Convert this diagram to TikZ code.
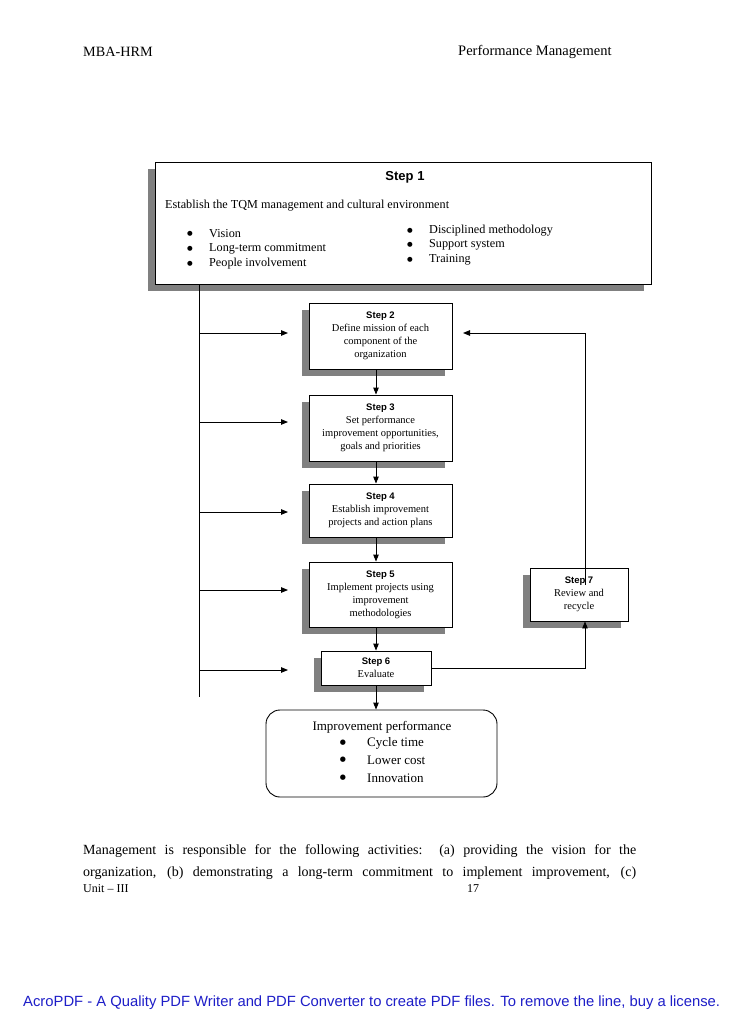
\documentclass[tikz,border=0pt]{standalone}
\usepackage{fontspec}
\setmainfont{Liberation Serif}
\newfontfamily\stepfont{Liberation Sans}
\newfontfamily\dejavu{DejaVu Sans}
\usetikzlibrary{arrows.meta,shadows,calc}
\definecolor{shadowgray}{RGB}{128,128,128}
\definecolor{acroblue}{RGB}{30,30,200}
\begin{document}
\begin{tikzpicture}[x=1pt,y=-1pt,
  ln/.style={line width=0.9pt},
  arr/.style={line width=0.9pt,-{Triangle[length=7pt,width=5.5pt]}},
  stepbox/.style={draw, line width=0.9pt, fill=white,
    general shadow={fill=shadowgray, shadow xshift=-7pt, shadow yshift=-7pt},
    align=center, inner sep=0pt, font=\fontsize{10.5}{13}\selectfont},
  txt/.style={inner sep=0pt, anchor=west},
  bul/.style={inner sep=0pt, font=\dejavu\fontsize{6.5}{6.5}\selectfont},
]
\newcommand\stl[1]{{\stepfont\bfseries\fontsize{9.5}{13}\selectfont #1}}
\useasboundingbox (0,0) rectangle (728,1030);
\fill[white] (0,0) rectangle (728,1030);

% header
\node[txt, font=\fontsize{14.2}{16}\selectfont] (hl) at (83,52) {MBA-HRM};
\node[txt, font=\fontsize{14.5}{16}\selectfont] (hr) at (458,52) {Performance Management};

% Step 1
\node[stepbox, minimum width=496pt, minimum height=122pt] (s1) at (403,223) {};
\node[inner sep=0pt] (s1t) at (405,177) {\stepfont\bfseries\fontsize{13}{15}\selectfont Step 1};
\node[txt, font=\fontsize{12.2}{14}\selectfont] (s1a) at (165,206) {Establish the TQM management and cultural environment};
\foreach \y/\t [count=\i] in {234/Vision, 249/Long-term commitment, 264/People involvement}{
  \node[bul] (lb\i) at (190,\y) {●};
  \node[txt, font=\fontsize{12.2}{14}\selectfont] (lt\i) at (209,\y) {\t};
}
\foreach \y/\t [count=\i] in {231/Disciplined methodology, 245/Support system, 260/Training}{
  \node[bul] (rb\i) at (410,\y) {●};
  \node[txt, font=\fontsize{12.2}{14}\selectfont] (rt\i) at (429,\y) {\t};
}

% Steps 2-7
\node[stepbox, minimum width=143pt, minimum height=66pt] (s2) at (380.5,336)
  {\stl{Step 2}\\Define mission of each\\component of the\\organization};
\node[stepbox, minimum width=143pt, minimum height=66pt] (s3) at (380.5,428)
  {\stl{Step 3}\\Set performance\\improvement opportunities,\\goals and priorities};
\node[stepbox, minimum width=143pt, minimum height=53pt] (s4) at (380.5,510.5)
  {\stl{Step 4}\\Establish improvement\\projects and action plans};
\node[stepbox, minimum width=143pt, minimum height=65pt] (s5) at (380.5,594.5)
  {\stl{Step 5}\\Implement projects using\\improvement\\methodologies};
\node[stepbox, minimum width=110pt, minimum height=34pt] (s6) at (376,668)
  {\stl{Step 6}\\Evaluate};
\node[stepbox, minimum width=98pt, minimum height=53pt] (s7) at (579,594.5)
  {\stl{Step 7}\\Review and\\recycle};

% result box
\node[draw, line width=0.9pt, rounded corners=14pt, minimum width=231pt, minimum height=87pt] (rb) at (381.5,753.5) {};
\node[inner sep=0pt, font=\fontsize{13}{15}\selectfont] (rbt) at (382,727) {Improvement performance};
\foreach \y/\t [count=\i] in {743/Cycle time, 760/Lower cost, 778/Innovation}{
  \node[bul, font=\dejavu\fontsize{7}{7}\selectfont] (bb\i) at (343,\y) {●};
  \node[txt, font=\fontsize{13}{15}\selectfont] (bt\i) at (367,\y) {\t};
}

% left distribution line
\coordinate (Ltop) at (199,284);
\coordinate (Lbot) at (199,697);
\draw[ln] (Ltop) -- (Lbot);
\foreach \y [count=\i] in {333,422,512,590,670}{
  \coordinate (L\i) at (199,\y);
  \coordinate (T\i) at (288,\y);
  \draw[arr] (L\i) -- (T\i);
}

% vertical flow
\draw[arr] (s2.south -| s6) -- (s3.north -| s6);
\draw[arr] (s3.south -| s6) -- (s4.north -| s6);
\draw[arr] (s4.south -| s6) -- (s5.north -| s6);
\draw[arr] (s5.south -| s6) -- (s6.north);
\draw[arr] (s6.south) -- (s6.south |- rb.north);

% feedback loop
\coordinate (fbT) at (463,333);
\draw[arr] (s6.east) -| ($(s7.south)+(6,0)$);
\draw[arr] ($(s7.north)+(6,17)$) |- (fbT);

% body text
\node[txt, font=\fontsize{14}{16}\selectfont] (p1) at (83,851)
  {\makebox[553pt][s]{Management is responsible for the following activities:\ \ (a) providing the vision for the}};
\node[txt, font=\fontsize{14}{16}\selectfont] (p2) at (83,873)
  {\makebox[553pt][s]{organization, (b) demonstrating a long-term commitment to implement improvement, (c)}};
\node[txt, font=\fontsize{12}{14}\selectfont] (f1) at (83,889) {Unit – III};
\node[txt, font=\fontsize{12}{14}\selectfont] (f2) at (467,889) {17};

\node[txt, font=\stepfont\fontsize{14.8}{17}\selectfont, text=acroblue] (acro) at (23,1003)
  {AcroPDF - A Quality PDF Writer and PDF Converter to create PDF files. To remove the line, buy a license.};
\end{tikzpicture}
\end{document}
